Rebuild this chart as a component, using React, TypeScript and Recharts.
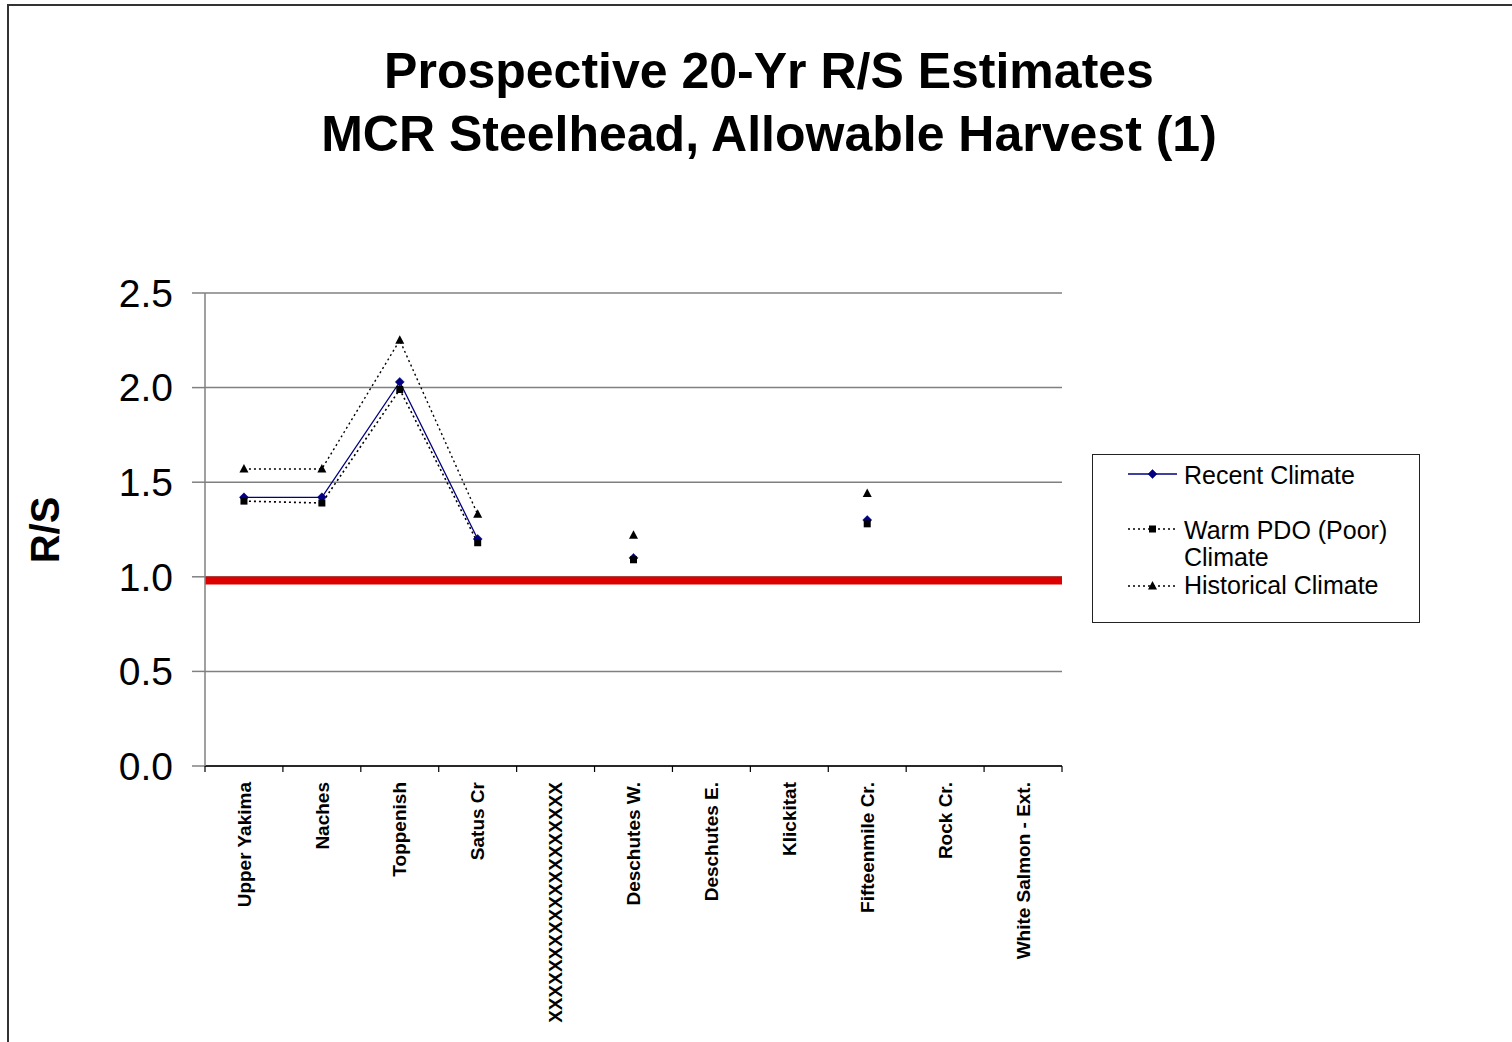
import React from 'react';
import { LineChart, Line, XAxis, YAxis, CartesianGrid, ReferenceLine, Legend } from 'recharts';

const FONT = '"Liberation Sans", Arial, Helvetica, sans-serif';

const categories = [
  'Upper Yakima',
  'Naches',
  'Toppenish',
  'Satus Cr',
  'XXXXXXXXXXXXXXXXXXX',
  'Deschutes W.',
  'Deschutes E.',
  'Klickitat',
  'Fifteenmile Cr.',
  'Rock Cr.',
  'White Salmon - Ext.',
];
const recentClimate = [1.42, 1.42, 2.03, 1.2, null, 1.1, null, null, 1.3, null, null];
const warmPdoClimate = [1.4, 1.39, 1.99, 1.18, null, 1.09, null, null, 1.28, null, null];
const historicalClimate = [1.57, 1.57, 2.25, 1.33, null, 1.22, null, null, 1.44, null, null];
const yTicks = [0, 0.5, 1, 1.5, 2, 2.5];
const replacementLevel = 0.98;
const titleLines = ['Prospective 20-Yr R/S Estimates', 'MCR Steelhead, Allowable Harvest (1)'];

const data = categories.map((name, i) => ({
  name,
  recent: recentClimate[i],
  warm: warmPdoClimate[i],
  hist: historicalClimate[i],
}));

const W = 1512;
const H = 1042;
const PLOT_LEFT = 205;
const PLOT_RIGHT = 1062;
const PLOT_TOP = 293;
const PLOT_BOTTOM = 766;
const Y_AXIS_W = 80;
const X_AXIS_H = 260;
const BAND = (PLOT_RIGHT - PLOT_LEFT) / categories.length;

type Shape = 'diamond' | 'square' | 'triangle';

const renderMarker = (shape: Shape, cx: number, cy: number, color: string, key?: string) => {
  if (shape === 'diamond') {
    return (
      <polygon key={key} points={`${cx},${cy - 4.5} ${cx + 4.5},${cy} ${cx},${cy + 4.5} ${cx - 4.5},${cy}`} fill={color} stroke={color} strokeWidth={0.5} />
    );
  }
  if (shape === 'square') {
    return <rect key={key} x={cx - 3.5} y={cy - 3.5} width={7} height={7} fill={color} />;
  }
  return (
    <polygon key={key} points={`${cx},${cy - 5} ${cx + 4.5},${cy + 3.5} ${cx - 4.5},${cy + 3.5}`} fill={color} />
  );
};

const series = [
  { key: 'recent', name: 'Recent Climate', color: '#000080', dash: undefined as string | undefined, width: 1.3, shape: 'diamond' as Shape, lines: ['Recent Climate'] },
  { key: 'warm', name: 'Warm PDO (Poor) Climate', color: '#000000', dash: '2 3', width: 1.6, shape: 'square' as Shape, lines: ['Warm PDO (Poor)', 'Climate'] },
  { key: 'hist', name: 'Historical Climate', color: '#000000', dash: '2 3', width: 1.4, shape: 'triangle' as Shape, lines: ['Historical Climate'] },
];

const makeDot = (shape: Shape, color: string) => (props: any) => {
  const { cx, cy, index, value } = props;
  if (cx == null || cy == null || value == null || Number.isNaN(cy)) return <g key={`e-${shape}-${index}`} />;
  return renderMarker(shape, cx, cy, color, `d-${shape}-${index}`);
};

const XTick = (props: any) => {
  const { x, y, payload, index } = props;
  const i = payload && payload.index != null ? payload.index : index;
  const ty = y + 16;
  return (
    <g>
      <line x1={x - BAND / 2} x2={x - BAND / 2} y1={y} y2={y + 6} stroke="#000" strokeWidth={1.2} />
      {i === categories.length - 1 && (
        <line x1={x + BAND / 2} x2={x + BAND / 2} y1={y} y2={y + 6} stroke="#000" strokeWidth={1.2} />
      )}
      <text
        x={x}
        y={ty}
        transform={`rotate(-90, ${x}, ${ty})`}
        textAnchor="end"
        dy="0.35em"
        fontSize={19}
        fontWeight="bold"
        fontFamily={FONT}
        fill="#000"
      >
        {payload.value}
      </text>
    </g>
  );
};

const rowYs = [[20], [75, 102], [130]];
const sampleYs = [19, 74, 131];

const LegendBox = () => (
  <div
    style={{
      width: 328,
      height: 169,
      boxSizing: 'border-box',
      border: '1.5px solid #222',
      background: '#fff',
    }}
  >
    <svg width={326} height={166} style={{ display: 'block' }}>
      {series.map((s, si) => (
        <g key={s.key}>
          <line x1={35} x2={84} y1={sampleYs[si]} y2={sampleYs[si]} stroke={s.color} strokeWidth={s.dash ? 1.6 : 1.3} strokeDasharray={s.dash} />
          {renderMarker(s.shape, 59.5, sampleYs[si], s.color)}
          {s.lines.map((t, li) => (
            <text key={t} x={91} y={rowYs[si][li]} dy="0.35em" fontSize={25} fontFamily={FONT} fill="#000">
              {t}
            </text>
          ))}
        </g>
      ))}
    </svg>
  </div>
);

export default function App() {
  return (
    <div style={{ position: 'absolute', left: 0, top: 0, width: W, height: H, background: '#fff', overflow: 'hidden' }}>
      <div
        style={{
          position: 'absolute',
          left: 7,
          top: 4,
          width: W,
          height: H,
          borderLeft: '2px solid #333',
          borderTop: '2px solid #333',
        }}
      />
      <div style={{ position: 'absolute', left: 0, top: 0 }}>
        <LineChart
          width={W}
          height={H}
          data={data}
          margin={{
            top: PLOT_TOP,
            bottom: H - PLOT_BOTTOM - X_AXIS_H,
            left: PLOT_LEFT - Y_AXIS_W,
            right: W - PLOT_RIGHT,
          }}
        >
          <CartesianGrid horizontal vertical={false} stroke="#808080" strokeWidth={1.5} />
          <XAxis
            dataKey="name"
            scale="band"
            interval={0}
            height={X_AXIS_H}
            tickLine={false}
            tickSize={0}
            tickMargin={0}
            axisLine={{ stroke: '#000', strokeWidth: 1.5 }}
            tick={<XTick />}
          />
          <YAxis
            domain={[0, 2.5]}
            ticks={yTicks}
            width={Y_AXIS_W}
            tickSize={13}
            tickMargin={19}
            interval={0}
            tickFormatter={(v: number) => v.toFixed(1)}
            tick={{ fontSize: 39, fill: '#000', fontFamily: FONT }}
            tickLine={{ stroke: '#808080', strokeWidth: 1.5 }}
            axisLine={{ stroke: '#808080', strokeWidth: 1.5 }}
          />
          <ReferenceLine y={replacementLevel} stroke="#dd0000" strokeWidth={8} ifOverflow="visible" />
          {series.map((s) => (
            <Line
              key={s.key}
              dataKey={s.key}
              name={s.name}
              stroke={s.color}
              strokeWidth={s.width}
              strokeDasharray={s.dash}
              type="linear"
              dot={makeDot(s.shape, s.color)}
              activeDot={false}
              isAnimationActive={false}
            />
          ))}
          <Legend
            layout="vertical"
            align="center"
            verticalAlign="middle"
            wrapperStyle={{ left: 1092, top: 454, width: 328, height: 169, right: 'auto', bottom: 'auto' }}
            content={() => <LegendBox />}
          />
        </LineChart>
      </div>
      <svg width={W} height={H} style={{ position: 'absolute', left: 0, top: 0, pointerEvents: 'none' }}>
        {titleLines.map((t, i) => (
          <text key={t} x={769} y={88 + i * 63} textAnchor="middle" fontSize={50} fontWeight="bold" fontFamily={FONT} fill="#000">
            {t}
          </text>
        ))}
        <text
          x={45}
          y={530}
          transform="rotate(-90, 45, 530)"
          textAnchor="middle"
          dy="0.36em"
          fontSize={40}
          fontWeight="bold"
          fontFamily={FONT}
          fill="#000"
        >
          R/S
        </text>
      </svg>
    </div>
  );
}
